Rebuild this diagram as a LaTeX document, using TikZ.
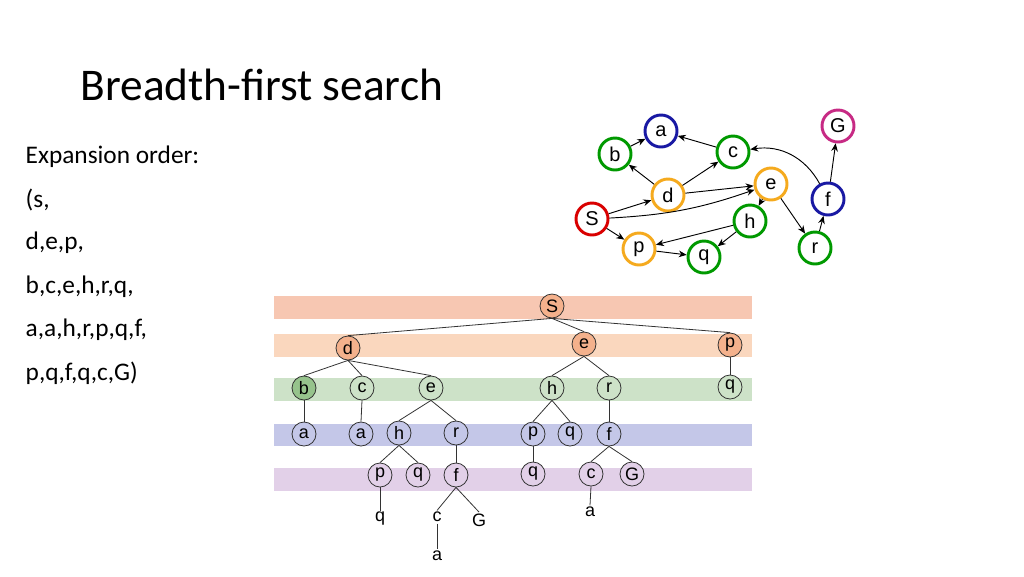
\documentclass[tikz,border=0pt]{standalone}
\usepackage{fontspec}
\setmainfont{Carlito}
\newfontfamily\arial{Liberation Sans}
\usetikzlibrary{arrows.meta}
\definecolor{gold}{RGB}{245,170,30}
\begin{document}
\begin{tikzpicture}[x=1pt,y=-1pt,
 gn/.style={circle,line width=2.2pt,minimum size=24pt,inner sep=0pt,font=\arial\fontsize{15}{15}\selectfont,fill=white},
 ga/.style={-{Stealth[length=6pt,width=5pt]},line width=0.7pt},
 tn/.style={circle,draw=black!80,line width=0.6pt,minimum size=18pt,inner sep=0pt,font=\arial\fontsize{13.5}{13.5}\selectfont},
 tl/.style={inner sep=1pt,font=\arial\fontsize{13.5}{13.5}\selectfont},
 te/.style={line width=0.6pt,draw=black!80}]
\useasboundingbox (0,0) rectangle (768,432);
\begin{scope}[x=0.75pt,y=-0.75pt]
% title and text
\node[anchor=west,font=\fontsize{34}{34}\selectfont] (title) at (76,85) {Breadth-first search};
\foreach \t/\yy [count=\i] in {{Expansion order:}/157,{(s,}/200,{d,e,p,}/243,{b,c,e,h,r,q,}/287,{a,a,h,r,p,q,f,}/330,{p,q,f,q,c,G)}/373}
  \node[anchor=west,font=\fontsize{19}{19}\selectfont] (l\i) at (21,\yy) {\t};
% graph
\node[gn,draw=blue!60!black!90] (a) at (661,131) {a};
\node[gn,draw=green!60!black] (b) at (615,154) {b};
\node[gn,draw=green!60!black] (c) at (733,152) {c};
\node[gn,draw=gold] (d) at (668,195) {d};
\node[gn,draw=gold] (e) at (771,184) {e};
\node[gn,draw=blue!60!black!90] (f) at (828,199) {f};
\node[gn,draw=magenta!80!black] (G) at (838,126) {G};
\node[gn,draw=red!85!black] (S) at (592,219) {S};
\node[gn,draw=green!60!black] (h) at (750,221) {h};
\node[gn,draw=gold] (p) at (639,249) {p};
\node[gn,draw=green!60!black] (q) at (704,257) {q};
\node[gn,draw=green!60!black] (r) at (815,248) {r};
\draw[ga] (b)--(a); \draw[ga] (c)--(a); \draw[ga] (d)--(b); \draw[ga] (d)--(c);
\draw[ga] (d)--(e); \draw[ga] (S)--(d); \draw[ga] (S) to[bend right=8] (e);
\draw[ga] (S)--(p); \draw[ga] (e)--(h); \draw[ga] (e)--(r); \draw[ga] (h)--(p);
\draw[ga] (h)--(q); \draw[ga] (p)--(q); \draw[ga] (r)--(f); \draw[ga] (f)--(G);
\draw[ga] (f) to[bend right=35] (c);
% bands
\fill[fill={rgb,255:red,247;green,199;blue,178}] (274,296) rectangle (752,319);
\fill[fill={rgb,255:red,250;green,215;blue,190}] (274,334) rectangle (752,357);
\fill[fill={rgb,255:red,205;green,226;blue,200}] (274,378) rectangle (752,401);
\fill[fill={rgb,255:red,196;green,199;blue,232}] (274,424) rectangle (752,446);
\fill[fill={rgb,255:red,226;green,208;blue,232}] (274,468) rectangle (752,491);
% tree
\tikzset{o/.style={tn,fill={rgb,255:red,244;green,177;blue,140}},
 g/.style={tn,fill={rgb,255:red,205;green,226;blue,200}},
 bl/.style={tn,fill={rgb,255:red,196;green,199;blue,232}},
 pu/.style={tn,fill={rgb,255:red,226;green,208;blue,232}}}
\node[o] (tS) at (552,306) {S};
\node[o] (td) at (348,348) {d};
\node[o] (te) at (584,344) {e};
\node[o] (tp) at (730,345) {p};
\node[tn,fill={rgb,255:red,150;green,195;blue,140}] (tb) at (304,388) {b};
\node[g] (tc) at (362,388) {c};
\node[g] (te2) at (431,388) {e};
\node[g] (th) at (552,388) {h};
\node[g] (tr) at (609,388) {r};
\node[g] (tq) at (730,387) {q};
\node[bl] (ta1) at (304,434) {a};
\node[bl] (ta2) at (361,434) {a};
\node[bl] (th2) at (399,433) {h};
\node[bl] (tr2) at (456,433) {r};
\node[bl] (tp2) at (533,434) {p};
\node[bl] (tq2) at (570,434) {q};
\node[bl] (tf) at (609,434) {f};
\node[pu] (tp3) at (380,475) {p};
\node[pu] (tq3) at (418,475) {q};
\node[pu] (tf3) at (456,475) {f};
\node[pu] (tq4) at (533,474) {q};
\node[pu] (tc4) at (591,474) {c};
\node[pu] (tG4) at (632,474) {G};
\node[tl] (xq) at (380,519) {q};
\node[tl] (xc) at (437,517) {c};
\node[tl] (xG) at (479,520) {G};
\node[tl] (xa) at (437,556) {a};
\node[tl] (xa2) at (590,512) {a};
\foreach \u/\v in {tS/td,tS/te,tS/tp,td/tb,td/tc,td/te2,te/th,te/tr,tp/tq,tb/ta1,tc/ta2,te2/th2,te2/tr2,th/tp2,th/tq2,tr/tf,th2/tp3,th2/tq3,tr2/tf3,tp2/tq4,tf/tc4,tf/tG4,tp3/xq,tf3/xc,tf3/xG,xc/xa,tc4/xa2}
  \draw[te] (\u.south) -- (\v.north);
\end{scope}
\end{tikzpicture}
\end{document}
